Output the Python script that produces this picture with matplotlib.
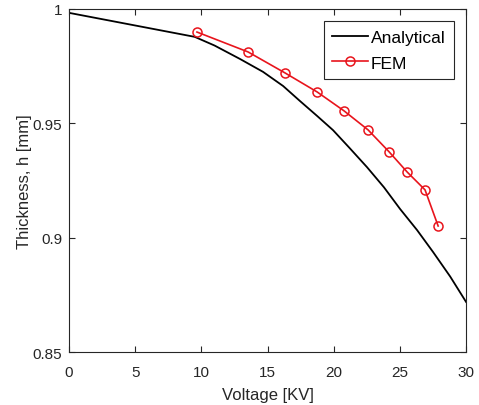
import numpy as np
import matplotlib.pyplot as plt

plt.rcParams['font.family'] = ['Liberation Sans', 'DejaVu Sans']

# Analytical curve (voltage kV, thickness mm)
v_analytical = [0, 9.5, 11.0, 12.93, 14.66, 16.18, 17.46, 18.75, 19.95, 21.2,
                22.52, 23.8, 25.02, 26.3, 27.51, 28.8, 30.0]
h_analytical = [0.9983, 0.9878, 0.9840, 0.9781, 0.9725, 0.9663, 0.9597, 0.9532,
                0.9470, 0.9392, 0.9308, 0.9220, 0.9125, 0.9033, 0.8937, 0.8830, 0.8719]

# FEM results
v_fem = [9.67, 13.53, 16.33, 18.75, 20.79, 22.6, 24.19, 25.55, 26.9, 27.89]
h_fem = [0.9899, 0.9812, 0.9720, 0.9637, 0.9554, 0.9471, 0.9375, 0.9287, 0.9209, 0.9051]

fig = plt.figure(figsize=(4.79, 4.06), dpi=100)
ax = fig.add_axes([0.144, 0.1305, 0.829, 0.845])

ax.plot(v_analytical, h_analytical, color='black', lw=1.3, label='Analytical')
ax.plot(v_fem, h_fem, color='#e8141c', lw=1.2, marker='o', ms=6.5,
        mfc='none', mec='#e8141c', mew=1.1, label='FEM')

ax.set_xlim(0, 30)
ax.set_ylim(0.85, 1.0)
ax.set_xticks(np.arange(0, 31, 5))
ax.set_yticks([0.85, 0.9, 0.95, 1.0])
ax.set_yticklabels(['0.85', '0.9', '0.95', '1'])

ax.tick_params(direction='in', length=4, width=0.8, top=True, right=True,
               labelsize=11, colors='#262626')
ax.tick_params(axis='x', pad=9)
ax.tick_params(axis='y', pad=5)
for s in ax.spines.values():
    s.set_color('#262626')
    s.set_linewidth(0.8)

ax.set_xlabel('Voltage [KV]', fontsize=12, color='#262626', labelpad=6)
ax.set_ylabel('Thickness, h [mm]', fontsize=12, color='#262626', labelpad=0)

leg = ax.legend(loc='upper right', fontsize=12.5, frameon=True, fancybox=False,
                edgecolor='#262626', framealpha=1, handlelength=2.05,
                handletextpad=0.15, borderpad=0.5, labelspacing=0.6,
                borderaxespad=0.7)
leg.get_frame().set_linewidth(0.8)

fig.savefig('out.png', dpi=100)
